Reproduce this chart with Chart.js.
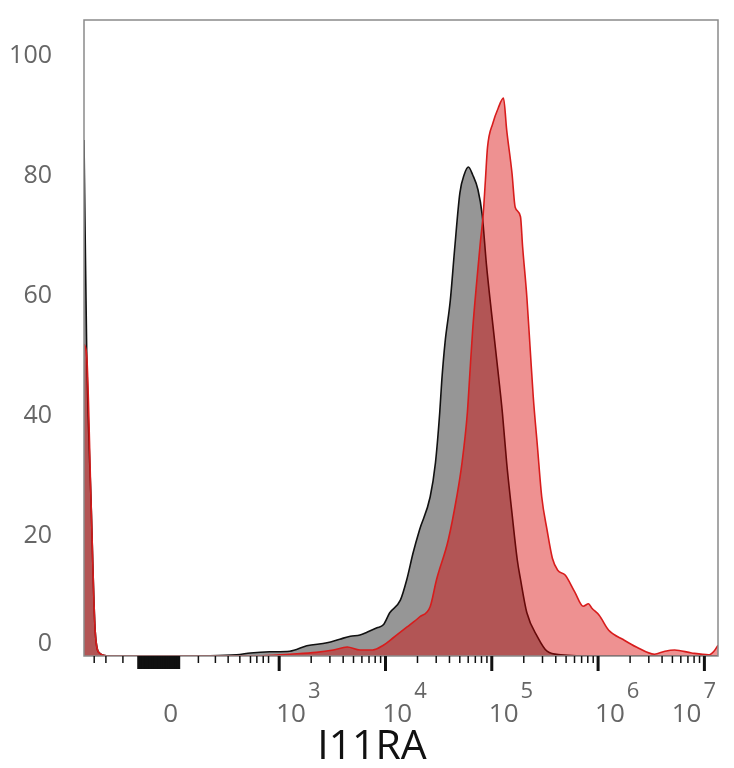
<!DOCTYPE html>
<html>
<head>
<meta charset="utf-8">
<script src="https://cdn.jsdelivr.net/npm/chart.js@4.4.1/dist/chart.umd.min.js"></script>
<style>
  html, body { margin: 0; padding: 0; background: #fff; }
  canvas { display: block; }
</style>
</head>
<body>
<canvas id="chart" width="734" height="768"></canvas>
<script>
// x positions are in display decades (10^3 -> 3, 10^4 -> 4 ...), zero sits at ~1.98
const axisMin = 1.164;
const axisMax = 7.128;
const zeroPos = 1.98;
const decades = [3, 4, 5, 6, 7];
const lowTicks = [1.26, 1.37, 1.53, 2.24, 2.40, 2.52, 2.63, 2.73, 2.79, 2.85, 2.90];
const yLabels = [0, 20, 40, 60, 80, 100];

// control (grey)
const ctrlPos = [1.164, 1.19, 1.23, 1.27, 1.31, 1.40, 2.00, 2.60, 2.73, 2.91, 3.10, 3.26, 3.45, 3.57,
  3.67, 3.76, 3.83, 3.92, 3.98, 4.04, 4.14, 4.20, 4.26, 4.32, 4.42, 4.47, 4.51, 4.53, 4.56, 4.61,
  4.65, 4.70, 4.74, 4.78, 4.82, 4.87, 4.91, 4.95, 5.00, 5.05, 5.10, 5.14, 5.19, 5.24, 5.27, 5.33,
  5.43, 5.52, 5.65, 6.00, 7.128];
const ctrlPct = [86, 50, 26, 4, 0.5, 0, 0, 0.2, 0.5, 0.7, 0.8, 1.7, 2.2, 2.8,
  3.3, 3.5, 4.0, 4.7, 5.2, 7.2, 9.3, 12.7, 17.2, 21, 26.5, 32.2, 40.5, 46, 52.2, 59.3,
  67.7, 77.2, 80.2, 81.5, 80.2, 77.7, 73.5, 65.2, 56.8, 48.8, 40.5, 32.2, 23.8, 16, 12.8, 7.2,
  3.2, 0.8, 0.2, 0, 0];

// IL11RA stained (red)
const il11raPos = [1.164, 1.19, 1.23, 1.27, 1.31, 1.40, 2.80, 3.10, 3.35, 3.51, 3.64, 3.76, 3.88,
  3.98, 4.07, 4.20, 4.32, 4.42, 4.48, 4.59, 4.67, 4.72, 4.77, 4.79, 4.82, 4.86, 4.89, 4.92, 4.94,
  4.96, 5.01, 5.06, 5.11, 5.14, 5.19, 5.22, 5.27, 5.29, 5.33, 5.36, 5.39, 5.43, 5.47, 5.52, 5.57,
  5.62, 5.69, 5.78, 5.86, 5.91, 5.94, 6.01, 6.10, 6.24, 6.36, 6.53, 6.63, 6.72, 6.88, 7.04, 7.09, 7.128];
const il11raPct = [52, 50, 26, 4, 0.5, 0, 0, 0.3, 0.6, 1.0, 1.5, 1.0, 1.0,
  1.8, 3.0, 4.8, 6.5, 8.2, 12.7, 19.3, 26.5, 32.2, 40.5, 46, 54.3, 62.7, 68.5, 73.8, 79.3,
  84.8, 88.8, 91.3, 93, 87.7, 80.5, 74.8, 73.2, 68.2, 59.8, 51.5, 43.2, 34.8, 26.5, 21, 16.3,
  14.3, 13.5, 10.7, 8.3, 8.7, 8, 6.8, 4.3, 2.7, 1.5, 0.3, 0.8, 1.0, 0.5, 0.2, 0.8, 1.8];

const toPoints = (xs, ys) => xs.map((x, i) => ({ x: x, y: ys[i] }));

// frame, biex ticks and labels drawn against the chart's own scales
const flowAxes = {
  id: "flowAxes",
  afterDatasetsDraw(chart) {
    const { ctx, chartArea: a, scales } = chart;
    const xs = scales.x;
    const ys = scales.y;
    ctx.save();

    ctx.strokeStyle = "#8a8a8a";
    ctx.lineWidth = 1.5;
    ctx.strokeRect(a.left, a.top, a.right - a.left, a.bottom - a.top);

    ctx.strokeStyle = "#111";
    const tick = (u, len, w) => {
      const px = xs.getPixelForValue(u);
      ctx.lineWidth = w;
      ctx.beginPath();
      ctx.moveTo(px, a.bottom);
      ctx.lineTo(px, a.bottom + len);
      ctx.stroke();
    };
    lowTicks.forEach((u) => tick(u, 7, 1.5));
    decades.forEach((d) => {
      tick(d, 15, 3);
      for (let k = 2; k <= 9; k++) {
        const u = d + Math.log10(k);
        if (u < axisMax) tick(u, 7, 1.5);
      }
    });
    // crowded ticks around zero
    for (let u = 1.672; u <= 2.067; u += 0.006) tick(u, 13, 1.5);

    // y labels
    ctx.fillStyle = "#666";
    ctx.font = "25px 'Open Sans'";
    ctx.textAlign = "right";
    ctx.textBaseline = "middle";
    yLabels.forEach((v) => {
      const py = Math.min(ys.getPixelForValue(v), a.bottom - 12);
      ctx.fillText(String(v), 52, py);
    });

    // x labels
    ctx.textBaseline = "alphabetic";
    ctx.textAlign = "center";
    ctx.font = "26px 'Open Sans'";
    ctx.fillText("0", xs.getPixelForValue(zeroPos), 722);
    ctx.textAlign = "left";
    decades.forEach((d) => {
      ctx.font = "26px 'Open Sans'";
      const w10 = ctx.measureText("10").width;
      ctx.font = "22px 'Open Sans'";
      const we = ctx.measureText(String(d)).width;
      const left = Math.min(xs.getPixelForValue(d) - 3, 716 - (w10 + 2 + we));
      ctx.font = "26px 'Open Sans'";
      ctx.fillText("10", left, 722);
      ctx.font = "22px 'Open Sans'";
      ctx.fillText(String(d), left + w10 + 2, 698);
    });

    // axis title
    ctx.fillStyle = "#111";
    ctx.font = "41px 'Open Sans'";
    ctx.textAlign = "center";
    ctx.fillText("I11RA", 372, 759);

    ctx.restore();
  },
};

new Chart(document.getElementById("chart"), {
  type: "line",
  data: {
    datasets: [
      {
        label: "IL11RA",
        data: toPoints(il11raPos, il11raPct),
        borderColor: "#d81c1c",
        backgroundColor: "rgba(215, 0, 0, 0.43)",
        borderWidth: 1.6,
        fill: "origin",
        order: 0,
      },
      {
        label: "Control",
        data: toPoints(ctrlPos, ctrlPct),
        borderColor: "#111",
        backgroundColor: "rgb(150, 150, 150)",
        borderWidth: 1.6,
        fill: "origin",
        order: 1,
      },
    ],
  },
  options: {
    responsive: false,
    animation: false,
    layout: {
      padding: { left: 84, top: 20, right: 16, bottom: 112 },
    },
    elements: {
      point: { radius: 0 },
      line: { cubicInterpolationMode: "monotone" },
    },
    plugins: {
      legend: { display: false },
      tooltip: { enabled: false },
    },
    scales: {
      x: { type: "linear", min: axisMin, max: axisMax, display: false },
      y: { min: 0, max: 106, display: false },
    },
  },
  plugins: [flowAxes],
});
</script>
</body>
</html>
